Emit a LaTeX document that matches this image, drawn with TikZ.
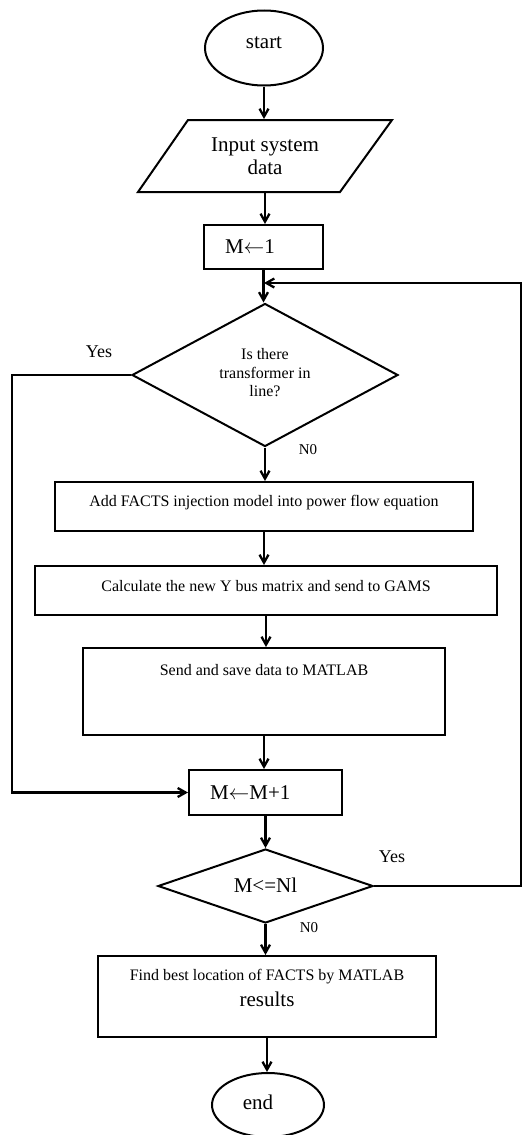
\documentclass[tikz,border=0pt]{standalone}
\usepackage{fontspec}
\setmainfont{Liberation Serif}
\usetikzlibrary{arrows.meta,shapes.geometric}
\begin{document}
\begin{tikzpicture}[x=1pt,y=-1pt,line width=2pt,
  box/.style={draw,rectangle,inner sep=0pt},
  oval/.style={draw,ellipse,inner sep=0pt},
  dia/.style={draw,diamond,inner sep=0pt},
  txt/.style={inner sep=0pt,align=center},
  big/.style={font=\fontsize{21}{23}\selectfont},
  small/.style={font=\fontsize{16}{18.5}\selectfont},
  lab/.style={inner sep=0pt,font=\fontsize{18}{20}\selectfont},
  nolab/.style={inner sep=0pt,font=\fontsize{15}{17}\selectfont},
  arr/.style={line width=2.3pt,-{Straight Barb[length=8pt,width=9pt]}}]
\useasboundingbox (0,0) rectangle (524,1135);

% start
\node[oval,minimum width=118pt,minimum height=75pt] (start) at (264,48) {};
\node[txt,big] (starttxt) at (264,43) {start};

% input (parallelogram)
\draw (138,192) -- (188,120) -- (392,120) -- (340,192) -- cycle;
\node[txt,big,minimum height=72pt] (in) at (265,156) {Input system\\data};

% M <- 1
\node[box,minimum width=119pt,minimum height=44pt] (m1) at (263.5,247) {};
\node[txt,big,anchor=west] (m1txt) at ([xshift=21pt]m1.west) {M\ensuremath{\leftarrow}1};

% decision 1
\node[dia,minimum width=266pt,minimum height=143pt] (d1) at (265,375) {};
\node[txt,small] (d1txt) at (265,373) {Is there\\transformer in\\line?};

% process boxes
\node[box,minimum width=418pt,minimum height=49pt] (a1) at (264,506.5) {};
\node[txt,small] (a1txt) at (264,503) {Add FACTS injection model into power flow equation};

\node[box,minimum width=462pt,minimum height=49pt] (a2) at (266,590.5) {};
\node[txt,small] (a2txt) at (266,586) {Calculate the new Y bus matrix and send to GAMS};

\node[box,minimum width=362pt,minimum height=87pt] (a3) at (264,691.5) {};
\node[txt,small] (a3txt) at (264,670) {Send and save data to MATLAB};

% M <- M+1
\node[box,minimum width=153pt,minimum height=45pt] (mm) at (265.5,792.5) {};
\node[txt,big,anchor=west] (mmtxt) at ([xshift=21pt]mm.west) {M\ensuremath{\leftarrow}M+1};

% decision 2
\node[dia,minimum width=215pt,minimum height=74pt] (d2) at (265.5,886) {};
\node[txt,big] (d2txt) at (265.5,885) {M<=Nl};

% final box
\node[box,minimum width=338pt,minimum height=81pt] (fb) at (267,996.5) {};
\node[txt,small] (fbtxt1) at (267,977) {Find best location of FACTS by MATLAB};
\node[txt,big] (fbtxt2) at (267,999) {results};

% end
\node[oval,minimum width=112pt,minimum height=64pt] (end) at (268,1105) {};
\node[txt,big] (endtxt) at (258,1102) {end};

% labels
\node[lab] (yes1) at (99,352) {Yes};
\node[nolab] (no1) at (308,450) {N0};
\node[lab] (yes2) at (392,857) {Yes};
\node[nolab] (no2) at (309,928) {N0};

% connectors
\draw[arr] (start.south) -- (start.south |- in.north);
\draw[arr] (in.south) -- (in.south |- m1.north);
\draw[arr] (m1.south) -- (m1.south |- d1.north);
\draw[arr] (d1.south) -- (d1.south |- a1.north);
\draw[arr] (a1.south) -- (a1.south |- a2.north);
\draw[arr] (a2.south) -- (a2.south |- a3.north);
\draw[arr] (a3.south) -- (a3.south |- mm.north);
\draw[arr] (mm.south) -- (mm.south |- d2.north);
\draw[arr] (d2.south) -- (d2.south |- fb.north);
\draw[arr] (fb.south) -- (fb.south |- end.north);

\coordinate (yl) at (12,375);
\draw[arr] (d1.west) -- (yl) -- (yl |- mm.west) -- (mm.west);

\coordinate (rr) at (521,886);
\coordinate (join) at (264,283);
\draw[arr] (d2.east) -- (rr) -- (rr |- join) -- (join);
\end{tikzpicture}
\end{document}
